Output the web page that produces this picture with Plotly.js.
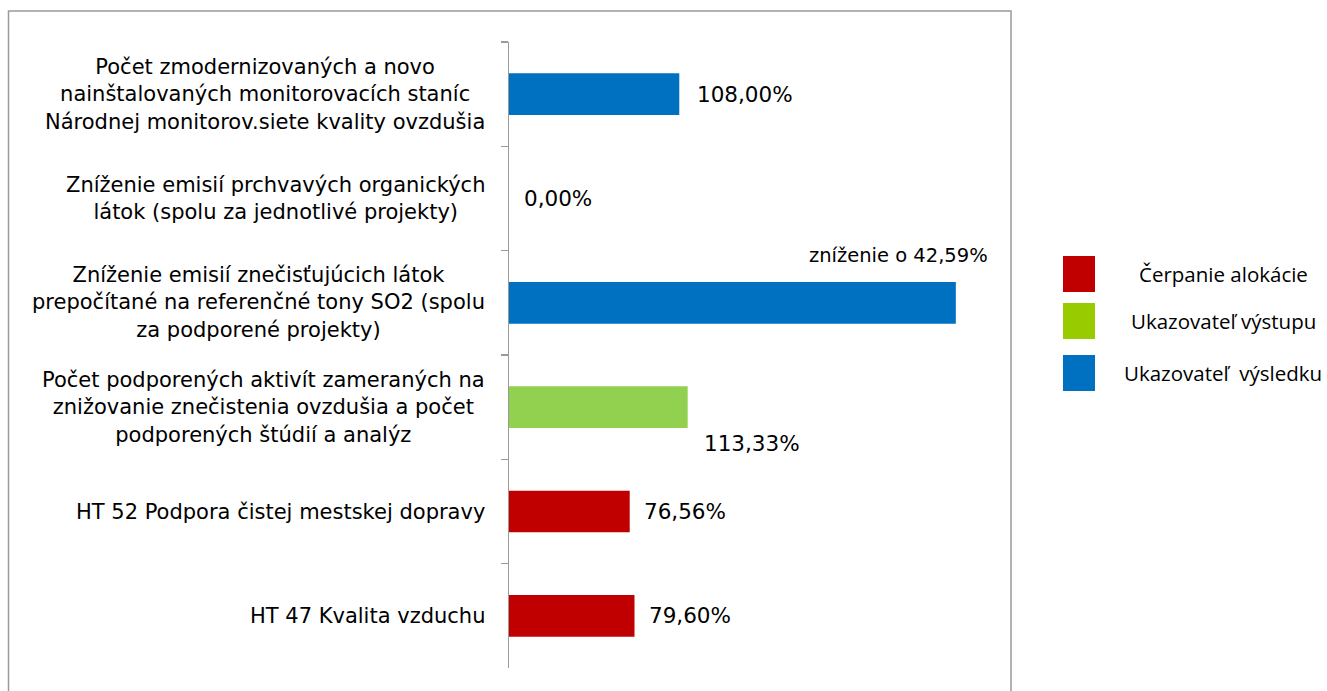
<!DOCTYPE html>
<html>
<head>
<meta charset="utf-8">
<script src="https://cdn.plot.ly/plotly-3.0.1.min.js"></script>
<style>html,body{margin:0;padding:0;background:#fff;}#chart{width:1327px;height:691px;}</style>
</head>
<body>
<div id="chart"></div>
<script>
// Categories (top to bottom)
const categories = [
  "Počet zmodernizovaných a novo<br>nainštalovaných monitorovacích staníc<br>Národnej monitorov.siete kvality ovzdušia",
  "Zníženie emisií prchvavých organických<br>látok (spolu za jednotlivé projekty)",
  "Zníženie emisií znečisťujúcich látok<br>prepočítané na referenčné tony SO2 (spolu<br>za podporené projekty)",
  "Počet podporených aktivít zameraných na<br>znižovanie znečistenia ovzdušia a počet<br>podporených štúdií a analýz",
  "HT 52 Podpora čistej mestskej dopravy",
  "HT 47 Kvalita vzduchu"
];
const values = [108.00, 0.00, 283.4, 113.33, 76.56, 79.60];
const valueLabels = ["108,00%", "0,00%", "zníženie o 42,59%", "113,33%", "76,56%", "79,60%"];
const groupOf = [2, 2, 2, 1, 0, 0];
const groupNames = ["Čerpanie alokácie", "Ukazovateľ výstupu", "Ukazovateľ\u00a0 výsledku"];
const barColors = ["#C00000", "#92D050", "#0070C0"];
const legendColors = ["#C00000", "#99CC00", "#0070C0"];

const catKeys = categories.map((c, i) => "c" + i);
const labelFont = "'DejaVu Sans', sans-serif";

const trace = {
  type: "bar",
  orientation: "h",
  y: catKeys,
  x: values,
  width: 0.4,
  marker: { color: groupOf.map(g => barColors[g]) },
  hoverinfo: "none",
  showlegend: false
};

const annotations = [];
categories.forEach((c, i) => {
  annotations.push({
    xref: "paper", yref: "y", x: 0, y: catKeys[i],
    xanchor: "right", yanchor: "middle", xshift: -22,
    text: c, align: "center", showarrow: false,
    font: { family: labelFont, size: 21, color: "#000" }
  });
});
const labelStyle = [
  { xanchor: "left", xshift: 16, yshift: 0, size: 21.5 },
  { xanchor: "left", xshift: 13, yshift: 0, size: 21.5 },
  { xanchor: "right", xshift: 34, yshift: 47, size: 19.5 },
  { xanchor: "left", xshift: 14, yshift: -36, size: 21.5 },
  { xanchor: "left", xshift: 12, yshift: 0, size: 21.5 },
  { xanchor: "left", xshift: 12, yshift: 0, size: 21.5 }
];
values.forEach((v, i) => {
  const s = labelStyle[i];
  annotations.push({
    xref: "x", yref: "y", x: v, y: catKeys[i],
    xanchor: s.xanchor, yanchor: "middle", xshift: s.xshift, yshift: s.yshift,
    text: valueLabels[i], showarrow: false,
    font: { family: labelFont, size: s.size, color: "#000" }
  });
});

const L = 509, W = 473, T = 42, H = 626;
const px2x = p => (p - L) / W;
const py2y = p => (T + H - p) / H;
const shapes = [];
shapes.push({
  type: "rect", xref: "paper", yref: "paper",
  x0: px2x(8.5), x1: px2x(1011), y0: py2y(700), y1: py2y(11),
  line: { color: "#9A9A9A", width: 1.5 }, fillcolor: "rgba(0,0,0,0)", layer: "below"
});
const legendTop = [256, 303, 355];
groupNames.forEach((n, g) => {
  shapes.push({
    type: "rect", xref: "paper", yref: "paper",
    x0: px2x(1063), x1: px2x(1095), y0: py2y(legendTop[g] + 36), y1: py2y(legendTop[g]),
    line: { width: 0 }, fillcolor: legendColors[g]
  });
  annotations.push({
    xref: "paper", yref: "paper", x: px2x(1223), y: py2y(legendTop[g] + 18),
    xanchor: "center", yanchor: "middle", text: n, showarrow: false,
    font: { family: "'Open Sans', 'Noto Sans', sans-serif", size: 20.5, color: "#000" }
  });
});

const layout = {
  width: 1327, height: 691,
  margin: { l: L, r: 1327 - L - W, t: T, b: 691 - T - H, pad: 0 },
  paper_bgcolor: "#fff", plot_bgcolor: "rgba(0,0,0,0)",
  xaxis: { range: [0, 300], visible: false, fixedrange: true },
  yaxis: {
    type: "category", autorange: "reversed", showticklabels: false,
    showline: true, linecolor: "#9A9A9A", linewidth: 1.5,
    ticks: "outside", tickson: "boundaries", ticklen: 7, tickcolor: "#9A9A9A", tickwidth: 1.5,
    showgrid: false, zeroline: false, fixedrange: true
  },
  bargap: 0.6,
  annotations: annotations,
  shapes: shapes,
  showlegend: false
};

Plotly.newPlot("chart", [trace], layout, { displayModeBar: false, staticPlot: true });
</script>
</body>
</html>
